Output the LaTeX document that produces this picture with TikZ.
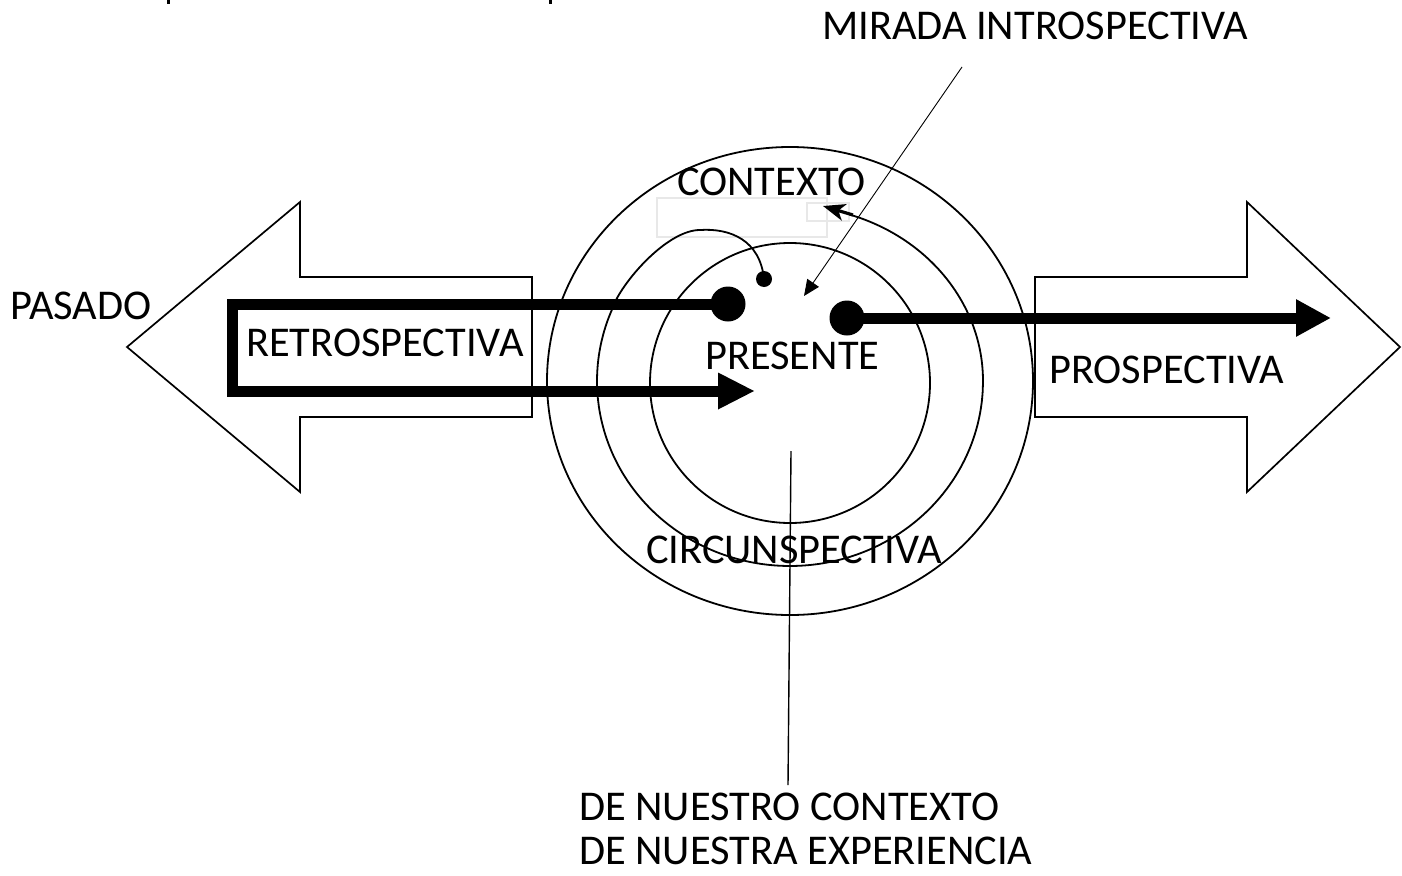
\documentclass[tikz,border=0pt]{standalone}
\usepackage{fontspec}
\setmainfont{Carlito}
\usetikzlibrary{arrows.meta}
\begin{document}
\begin{tikzpicture}[x=1pt,y=-1pt,
  bigarrow/.style={draw=black, line width=1.7pt, fill=white, line join=miter},
  ring/.style={draw=black, line width=1.8pt},
  heavy/.style={draw=black, line width=11pt, line join=miter},
  thin/.style={draw=black, line width=1.4pt},
  lbl/.style={anchor=base west, inner sep=0pt, font=\fontsize{42.4pt}{50pt}\selectfont},
  ghost/.style={draw=black!9, line width=1.2pt},
  dot/.style={circle, fill=black, inner sep=0pt, minimum size=#1}
]
\useasboundingbox (0,0) rectangle (1402,875);

% cut-off marks at the top edge
\fill (167,0) rectangle (170,4);
\fill (549,0) rectangle (552,4);

% big block arrows
\draw[bigarrow] (127,347) -- (300,202) -- (300,277) -- (532,277) -- (532,417)
  -- (300,417) -- (300,492) -- cycle;
\draw[bigarrow] (1400,347) -- (1247,202) -- (1247,277) -- (1035,277) -- (1035,417)
  -- (1247,417) -- (1247,492) -- cycle;

% faint boxes
\draw[ghost] (657,198) rectangle (827,237);
\draw[ghost] (807,203) rectangle (849,221);

% rings
\draw[ring] (790,381) ellipse [x radius=243pt, y radius=234pt];
\draw[ring] (790,383) circle [radius=140pt];

% dots
\node[dot=35pt] (dotL) at (728,304) {};
\node[dot=35pt] (dotR) at (847,318) {};
\node[dot=16pt] (dotS) at (764,279) {};

% spiral middle ring with arrow
\coordinate (sp0) at (616,300);
\coordinate (peak) at (700,230);
\coordinate (spE) at (853,215);
\coordinate (spTip) at (823,206);
\draw[ring] (dotS.center)
  .. controls (760,240) and (730,228) .. (peak)
  .. controls (670,230) and (630,273) .. (sp0)
  -- plot[smooth, samples=60, domain=206:0] ({790+193*cos(\x)},{381+185*sin(\x)})
  -- plot[smooth, samples=30, domain=0:-72] ({790+193*cos(\x)},{381+175*sin(\x)});
\draw[line width=3.2pt, -{Stealth[length=22pt,width=17pt,inset=6pt]}] (spE) -- (spTip);

% heavy arrows
\coordinate (cTL) at (232,304);
\coordinate (cBL) at (232,391);
\coordinate (tipB) at (755,391);
\coordinate (tipP) at (1331,318);
\draw[heavy, -{Triangle[length=37pt,width=34pt]}] (dotL.center) -- (cTL) -- (cBL) -- (tipB);
\draw[heavy, -{Triangle[length=35pt,width=35pt]}] (dotR.center) -- (tipP);

% leader lines
\coordinate (mirS) at (962,67);
\coordinate (mirE) at (804,296);
\draw[line width=0.9pt, -{Triangle[length=16pt,width=14pt]}] (mirS) -- (mirE);
\coordinate (vS) at (791,451);
\coordinate (vE) at (788,785);
\draw[thin] (vS) -- (vE);

% labels
\node[lbl] (pasado) at (10,319) {PASADO};
\node[lbl] (retro) at (246,356) {RETROSPECTIVA};
\node[lbl] (presente) at (705,369) {PRESENTE};
\node[lbl] (prosp) at (1049,383) {PROSPECTIVA};
\node[lbl] (contexto) at (677,195) {CONTEXTO};
\node[lbl] (circun) at (646,563) {CIRCUNSPECTIVA};
\node[lbl] (mirada) at (822,40) {MIRADA INTROSPECTIVA};
\node[lbl] (nctx) at (579,820) {DE NUESTRO CONTEXTO};
\node[lbl] (nexp) at (579,864) {DE NUESTRA EXPERIENCIA};
\end{tikzpicture}
\end{document}
